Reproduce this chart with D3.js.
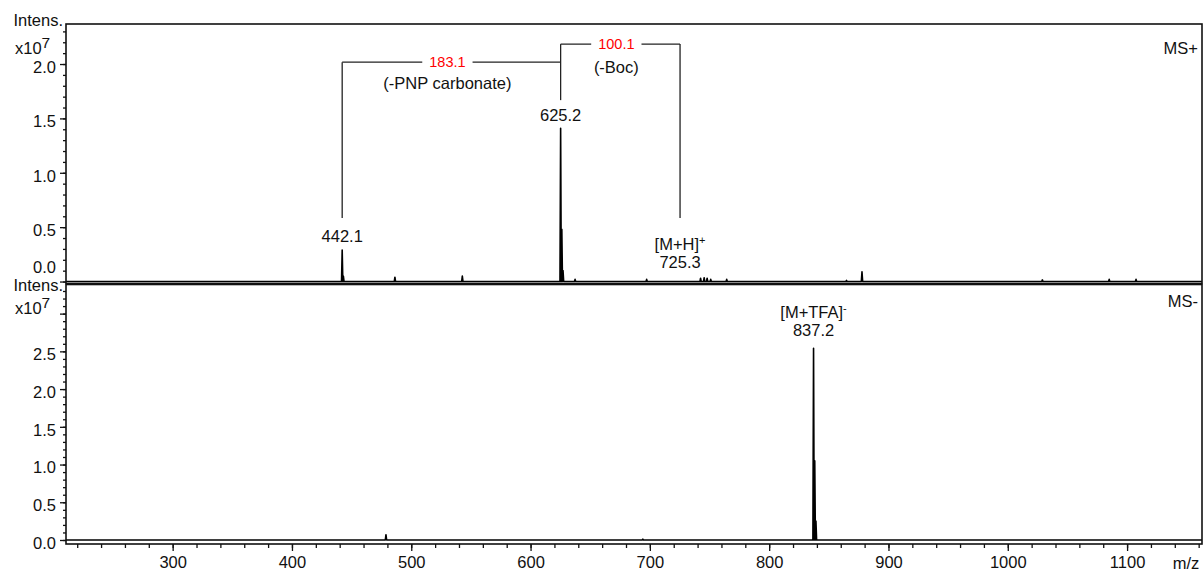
<!DOCTYPE html>
<html><head><meta charset="utf-8">
<script src="https://cdn.jsdelivr.net/npm/d3@7"></script>
<style>
html,body{margin:0;padding:0;background:#fff;}
svg{display:block;}
text{font-family:"Liberation Sans",Arial,sans-serif;fill:#111;}
</style></head>
<body>
<svg id="chart" width="1204" height="571"></svg>
<script>
// ---------- data ----------
const xDomain = [210.6, 1162.8];
const xMajorTicks = [300, 400, 500, 600, 700, 800, 900, 1000, 1100];
const xMinorTicks = d3.range(220, 1161, 20);

const topYTicks = [0, 0.5, 1.0, 1.5, 2.0];
const topYTickLabels = ["0.0", "0.5", "1.0", "1.5", "2.0"];
const bottomYTicks = [0, 0.5, 1.0, 1.5, 2.0, 2.5, 3.0];
const bottomYTickLabels = ["0.0", "0.5", "1.0", "1.5", "2.0", "2.5", ""];

// MS+ spectrum peaks (m/z, intensity x10^7)
const posMz  = [442.1, 443.1, 486.3, 542.8, 625.2, 626.2, 627.2, 637.3, 697.3, 742.5, 745.5, 748.0, 751.0, 764.4, 864.8, 877.8, 1029.0, 1085.0, 1107.5];
const posInt = [0.29,  0.05,  0.04,  0.05,  1.41,  0.48,  0.10,  0.02,  0.02,  0.03,  0.035, 0.03,  0.02,  0.02,  0.01,  0.09,  0.015,  0.02,   0.02];

// MS- spectrum peaks
const negMz  = [478.8, 694.1, 837.2, 838.2, 839.2];
const negInt = [0.07,  0.012, 2.54,  1.05,  0.25];

// peak labels (MS+)
const posLabelMz    = [442.1, 625.2, 725.3, 725.3];
const posLabelText  = ["442.1", "625.2", "725.3", "[M+H]"];
const posLabelSup   = ["", "", "", "+"];
const posLabelLevel = [0.363, 1.475, 0.124, 0.29];

// peak labels (MS-)
const negLabelMz    = [837.2, 837.2];
const negLabelText  = ["837.2", "[M+TFA]"];
const negLabelSup   = ["", "-"];
const negLabelLevel = [2.70, 2.94];

// fragmentation brackets
const fragFrom  = [442.1, 625.2];
const fragTo    = [625.2, 725.3];
const fragDiff  = ["183.1", "100.1"];
const fragLoss  = ["(-PNP carbonate)", "(-Boc)"];
const fragLevel = [2.017, 2.183];
const fragLossLevel = [1.77, 1.916];
// vertical bracket legs
const legMz     = [442.1, 625.2, 725.3];
const legTop    = [2.017, 2.183, 2.183];
const legBottom = [0.585, 1.668, 0.585];

// ---------- layout ----------
const svg = d3.select("#chart");
const L = 66, R = 1202;
const topP = {y0: 24, y1: 283.5, intensY: 26, expY: 54, tagY: 54};
const botP = {y0: 284.5, y1: 544, intensY: 291, expY: 314, tagY: 307};

const x = d3.scaleLinear().domain(xDomain).range([L, R]);
const yTop = d3.scaleLinear().domain([-0.018, 2.368]).range([topP.y1, topP.y0]);
const yBot = d3.scaleLinear().domain([-0.053, 3.386]).range([botP.y1, botP.y0]);

const FS = 16.5;

function spectrumPoints(mz, inten) {
  const idx = d3.range(mz.length).sort((a, b) => mz[a] - mz[b]);
  const pts = [[xDomain[0], 0]];
  idx.forEach(i => {
    pts.push([mz[i] - 0.55, 0]);
    pts.push([mz[i], inten[i]]);
    pts.push([mz[i] + 0.55, 0]);
  });
  pts.push([xDomain[1], 0]);
  return pts;
}

function drawPanel(y, panel, ticks, tickLabels, mz, inten, tag) {
  const g = svg.append("g");
  const line = d3.line().x(d => x(d[0])).y(d => y(d[1]));
  g.append("path").datum(spectrumPoints(mz, inten))
    .attr("d", line).attr("fill", "none").attr("stroke", "#000")
    .attr("stroke-width", 1.6).attr("stroke-linejoin", "round");
  g.append("rect").attr("x", L).attr("y", panel.y0).attr("width", R - L).attr("height", panel.y1 - panel.y0)
    .attr("fill", "none").attr("stroke", "#111").attr("stroke-width", 1.6);
  const minor = d3.range(0, y.domain()[1] + 1e-9, 0.1).map(v => +v.toFixed(2));
  const axis = d3.axisLeft(y).tickValues(minor).tickSize(3).tickFormat("");
  const ga = g.append("g").attr("transform", `translate(${L},0)`).call(axis);
  ga.select(".domain").remove();
  ga.selectAll("line").attr("stroke", "#111").attr("stroke-width", 1.3);
  const axisM = d3.axisLeft(y).tickValues(ticks).tickSize(6).tickPadding(4)
    .tickFormat((d, i) => tickLabels[i]);
  const gm = g.append("g").attr("transform", `translate(${L},0)`).call(axisM);
  gm.select(".domain").remove();
  gm.selectAll("line").attr("stroke", "#111").attr("stroke-width", 1.3);
  gm.selectAll("text").attr("font-size", FS).attr("font-family", "Liberation Sans, Arial, sans-serif")
    .attr("fill", "#111").attr("dy", "0.5em");
  g.append("text").attr("x", 63).attr("y", panel.intensY).attr("text-anchor", "end")
    .attr("font-size", FS).text("Intens.");
  const t = g.append("text").attr("x", 15).attr("y", panel.expY).attr("font-size", FS);
  t.append("tspan").text("x10");
  t.append("tspan").attr("dy", -6).attr("font-size", 15.5).text("7");
  g.append("text").attr("x", 1198).attr("y", panel.tagY).attr("text-anchor", "end")
    .attr("font-size", FS).text(tag);
  return gm;
}

const gTopAxis = drawPanel(yTop, topP, topYTicks, topYTickLabels, posMz, posInt, "MS+");
// lift the 0.0 label of the upper panel off the panel border
gTopAxis.selectAll(".tick").filter(d => d === 0).select("text").attr("dy", "-0.55em");
drawPanel(yBot, botP, bottomYTicks, bottomYTickLabels, negMz, negInt, "MS-");

// x axis
const gx = svg.append("g").attr("transform", `translate(0,${botP.y1})`);
const ax1 = gx.append("g").call(d3.axisBottom(x).tickValues(xMinorTicks).tickSize(4).tickFormat(""));
ax1.select(".domain").remove();
ax1.selectAll("line").attr("stroke", "#111").attr("stroke-width", 1.3);
const ax2 = gx.append("g").call(d3.axisBottom(x).tickValues(xMajorTicks).tickSize(7).tickPadding(5).tickFormat(d3.format("d")));
ax2.select(".domain").remove();
ax2.selectAll("line").attr("stroke", "#111").attr("stroke-width", 1.3);
ax2.selectAll("text").attr("font-size", FS).attr("font-family", "Liberation Sans, Arial, sans-serif").attr("fill", "#111");
svg.append("text").attr("x", 1186).attr("y", 569).attr("text-anchor", "middle").attr("font-size", FS).text("m/z");

// peak labels
function peakLabels(y, mzs, texts, sups, levels) {
  mzs.forEach((m, i) => {
    const t = svg.append("text").attr("x", x(m)).attr("y", y(levels[i])).attr("text-anchor", "middle")
      .attr("font-size", FS);
    t.append("tspan").text(texts[i]);
    if (sups[i]) t.append("tspan").attr("dy", -6).attr("font-size", 11).text(sups[i]);
  });
}
peakLabels(yTop, posLabelMz, posLabelText, posLabelSup, posLabelLevel);
peakLabels(yBot, negLabelMz, negLabelText, negLabelSup, negLabelLevel);

// brackets
const bc = "#222";
legMz.forEach((m, i) => {
  svg.append("line").attr("x1", x(m)).attr("x2", x(m)).attr("y1", yTop(legTop[i])).attr("y2", yTop(legBottom[i]))
    .attr("stroke", bc).attr("stroke-width", 1.3);
});
fragFrom.forEach((f, i) => {
  const yy = yTop(fragLevel[i]);
  svg.append("line").attr("x1", x(f)).attr("x2", x(fragTo[i])).attr("y1", yy).attr("y2", yy)
    .attr("stroke", bc).attr("stroke-width", 1.3);
  const cx = (x(f) + x(fragTo[i])) / 2 - 4;
  const bg = svg.append("rect").attr("fill", "#fff");
  const t = svg.append("text").attr("x", cx).attr("y", yy + 5).attr("text-anchor", "middle")
    .attr("font-size", 14.5).style("fill", "#ff0000").text(fragDiff[i]);
  const bb = t.node().getBBox();
  bg.attr("x", bb.x - 7).attr("y", yy - 3).attr("width", bb.width + 14).attr("height", 6);
  svg.append("text").attr("x", cx).attr("y", yTop(fragLossLevel[i])).attr("text-anchor", "middle")
    .attr("font-size", FS).text(fragLoss[i]);
});
</script>
</body></html>
